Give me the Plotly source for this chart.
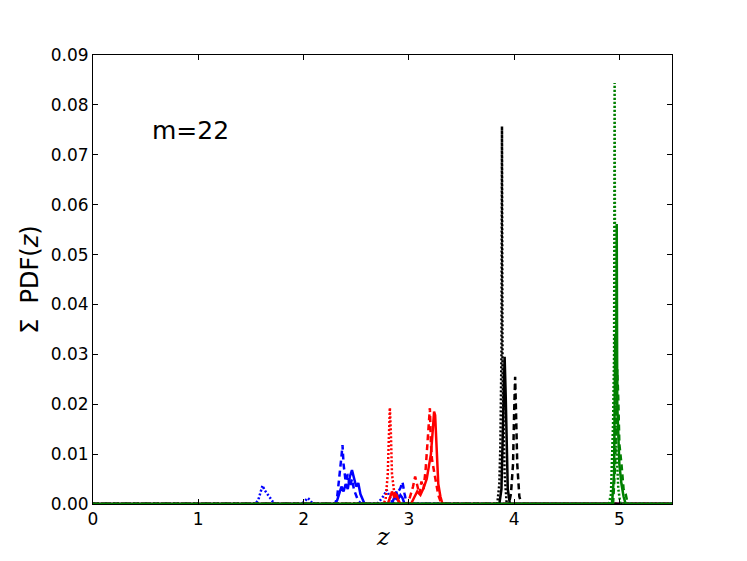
"""Stacked photo-z PDFs for m=22, split by colour and line style."""

import plotly.graph_objects as go

# --- data --------------------------------------------------------------------
blue_solid_z = [0, 2.30, 2.32, 2.34, 2.36, 2.38, 2.40, 2.42, 2.44, 2.46, 2.48, 2.50,
                2.52, 2.54, 2.56, 2.58, 2.84, 2.86, 2.88, 2.90, 2.92, 2.94, 2.96, 5.5]
blue_solid_pdf = [0, 0, 0.0008, 0.0020, 0.0035, 0.0025, 0.0040, 0.0030, 0.0055, 0.0068,
                  0.0052, 0.0035, 0.0042, 0.0020, 0.0010, 0, 0, 0.0015, 0.0025, 0.0010,
                  0.0018, 0.0012, 0, 0]

blue_dashed_z = [0, 2.30, 2.32, 2.34, 2.36, 2.37, 2.38, 2.40, 2.42, 2.44, 2.46, 2.48,
                 2.50, 2.52, 2.55, 2.85, 2.88, 2.90, 2.92, 2.94, 2.96, 2.98, 5.5]
blue_dashed_pdf = [0, 0, 0.0015, 0.0050, 0.0095, 0.0118, 0.0080, 0.0045, 0.0060, 0.0035,
                   0.0050, 0.0028, 0.0015, 0.0006, 0, 0, 0.0010, 0.0025, 0.0032, 0.0044,
                   0.0020, 0, 0]

blue_dotted_z = [0, 1.54, 1.57, 1.59, 1.61, 1.63, 1.65, 1.68, 1.71, 1.74, 1.98, 2.01,
                 2.04, 2.06, 2.09, 2.70, 2.73, 2.76, 2.79, 2.82, 2.85, 5.5]
blue_dotted_pdf = [0, 0, 0.0008, 0.0022, 0.0037, 0.0028, 0.0022, 0.0012, 0.0004, 0, 0,
                   0.0005, 0.0012, 0.0008, 0, 0, 0.0008, 0.0016, 0.0028, 0.0012, 0, 0]

red_solid_z = [0, 2.80, 2.82, 2.84, 2.86, 2.88, 2.90, 2.92, 3.02, 3.05, 3.08, 3.11,
               3.14, 3.17, 3.19, 3.21, 3.23, 3.24, 3.25, 3.26, 3.27, 3.28, 3.30, 3.32, 5.5]
red_solid_pdf = [0, 0, 0.0012, 0.0025, 0.0015, 0.0020, 0.0008, 0, 0, 0.0012, 0.0025,
                 0.0018, 0.0032, 0.0050, 0.0075, 0.0100, 0.0155, 0.0185, 0.0178, 0.0120,
                 0.0075, 0.0040, 0.0015, 0, 0]

red_dashed_z = [0, 2.98, 3.00, 3.02, 3.04, 3.06, 3.08, 3.10, 3.12, 3.14, 3.16, 3.18,
                3.19, 3.20, 3.21, 3.22, 3.24, 3.26, 3.28, 3.30, 3.32, 5.5]
red_dashed_pdf = [0, 0, 0.0006, 0.0020, 0.0035, 0.0055, 0.0040, 0.0020, 0.0045, 0.0030,
                  0.0070, 0.0130, 0.0165, 0.0192, 0.0120, 0.0090, 0.0065, 0.0040, 0.0018,
                  0.0006, 0, 0]

red_dotted_z = [0, 2.76, 2.78, 2.80, 2.81, 2.82, 2.83, 2.84, 2.86, 2.88, 2.90, 2.92, 5.5]
red_dotted_pdf = [0, 0, 0.0010, 0.0060, 0.0130, 0.0193, 0.0140, 0.0060, 0.0025, 0.0015,
                  0.0006, 0, 0]

black_solid_z = [0, 3.86, 3.88, 3.89, 3.90, 3.91, 3.92, 3.93, 3.94, 3.96, 5.5]
black_solid_pdf = [0, 0, 0.0030, 0.0120, 0.0240, 0.0295, 0.0220, 0.0100, 0.0030, 0, 0]

black_dashed_z = [0, 3.95, 3.97, 3.99, 4.00, 4.01, 4.02, 4.03, 4.05, 4.07, 5.5]
black_dashed_pdf = [0, 0, 0.0020, 0.0080, 0.0180, 0.0255, 0.0170, 0.0080, 0.0015, 0, 0]

black_dotted_z = [0, 3.84, 3.86, 3.87, 3.88, 3.885, 3.89, 3.90, 3.91, 3.93, 5.5]
black_dotted_pdf = [0, 0, 0.0040, 0.0120, 0.0300, 0.0757, 0.0280, 0.0150, 0.0060, 0, 0]

green_solid_z = [0, 4.93, 4.95, 4.96, 4.97, 4.975, 4.98, 4.99, 5.00, 5.02, 5.04, 5.06, 5.5]
green_solid_pdf = [0, 0, 0.0060, 0.0340, 0.0300, 0.0561, 0.0200, 0.0120, 0.0080, 0.0040,
                   0.0015, 0, 0]

green_dashed_z = [0, 4.94, 4.96, 4.97, 4.98, 4.99, 5.00, 5.02, 5.04, 5.06, 5.08, 5.5]
green_dashed_pdf = [0, 0, 0.0080, 0.0180, 0.0270, 0.0210, 0.0120, 0.0080, 0.0030, 0.0020,
                    0, 0]

green_dotted_z = [0, 4.90, 4.92, 4.94, 4.95, 4.955, 4.96, 4.97, 4.99, 5.01, 5.5]
green_dotted_pdf = [0, 0, 0.0020, 0.0160, 0.0300, 0.0844, 0.0300, 0.0120, 0.0030, 0, 0]

x_ticks = [0, 1, 2, 3, 4, 5]
y_ticks = [0.00, 0.01, 0.02, 0.03, 0.04, 0.05, 0.06, 0.07, 0.08, 0.09]

# --- styling ------------------------------------------------------------------
_DASH = {"solid": "solid", "dashed": "6px,4px", "dotted": "2px,2px"}
_FONT = "DejaVu Sans"

series = [
    ("#0000ff", "solid", blue_solid_z, blue_solid_pdf),
    ("#0000ff", "dashed", blue_dashed_z, blue_dashed_pdf),
    ("#0000ff", "dotted", blue_dotted_z, blue_dotted_pdf),
    ("#ff0000", "solid", red_solid_z, red_solid_pdf),
    ("#ff0000", "dashed", red_dashed_z, red_dashed_pdf),
    ("#ff0000", "dotted", red_dotted_z, red_dotted_pdf),
    ("#000000", "solid", black_solid_z, black_solid_pdf),
    ("#000000", "dashed", black_dashed_z, black_dashed_pdf),
    ("#000000", "dotted", black_dotted_z, black_dotted_pdf),
    ("#008000", "solid", green_solid_z, green_solid_pdf),
    ("#008000", "dashed", green_dashed_z, green_dashed_pdf),
    ("#008000", "dotted", green_dotted_z, green_dotted_pdf),
]

fig = go.Figure()
for colour, style, z, pdf in series:
    fig.add_trace(
        go.Scatter(
            x=z,
            y=pdf,
            mode="lines",
            line={"color": colour, "width": 2.5, "dash": _DASH[style]},
            showlegend=False,
        )
    )

axis_common = dict(
    showline=True,
    linecolor="black",
    linewidth=1,
    mirror="allticks",
    ticks="inside",
    ticklen=5,
    tickcolor="black",
    showgrid=False,
    zeroline=False,
    tickfont={"family": _FONT, "size": 17, "color": "black"},
)

fig.update_xaxes(range=[0, 5.5], tickvals=x_ticks, ticktext=[str(t) for t in x_ticks],
                 **axis_common)
fig.update_yaxes(range=[0, 0.09], tickvals=y_ticks, tickformat=".2f", **axis_common)

# page body adds ~8px, so the figure is a little smaller than the window
fig.update_layout(
    width=739,
    height=553,
    margin={"l": 85, "r": 75, "t": 47, "b": 57},
    paper_bgcolor="white",
    plot_bgcolor="white",
    font={"family": _FONT, "color": "black"},
    annotations=[
        dict(x=0.54, y=0.0748, xref="x", yref="y", text="m=22", showarrow=False,
             xanchor="left", yanchor="middle", font={"size": 25}),
        dict(x=-0.11, y=0.5, xref="paper", yref="paper", textangle=-90,
             text="Σ  PDF(<i>z</i>)", showarrow=False, xanchor="center",
             yanchor="middle", font={"size": 24}),
        dict(x=0.5, y=-0.073, xref="paper", yref="paper", text="<i>z</i>",
             showarrow=False, xanchor="center", yanchor="middle",
             font={"size": 24, "family": "DejaVu Serif"}),
    ],
)

fig.write_html("out.html")
